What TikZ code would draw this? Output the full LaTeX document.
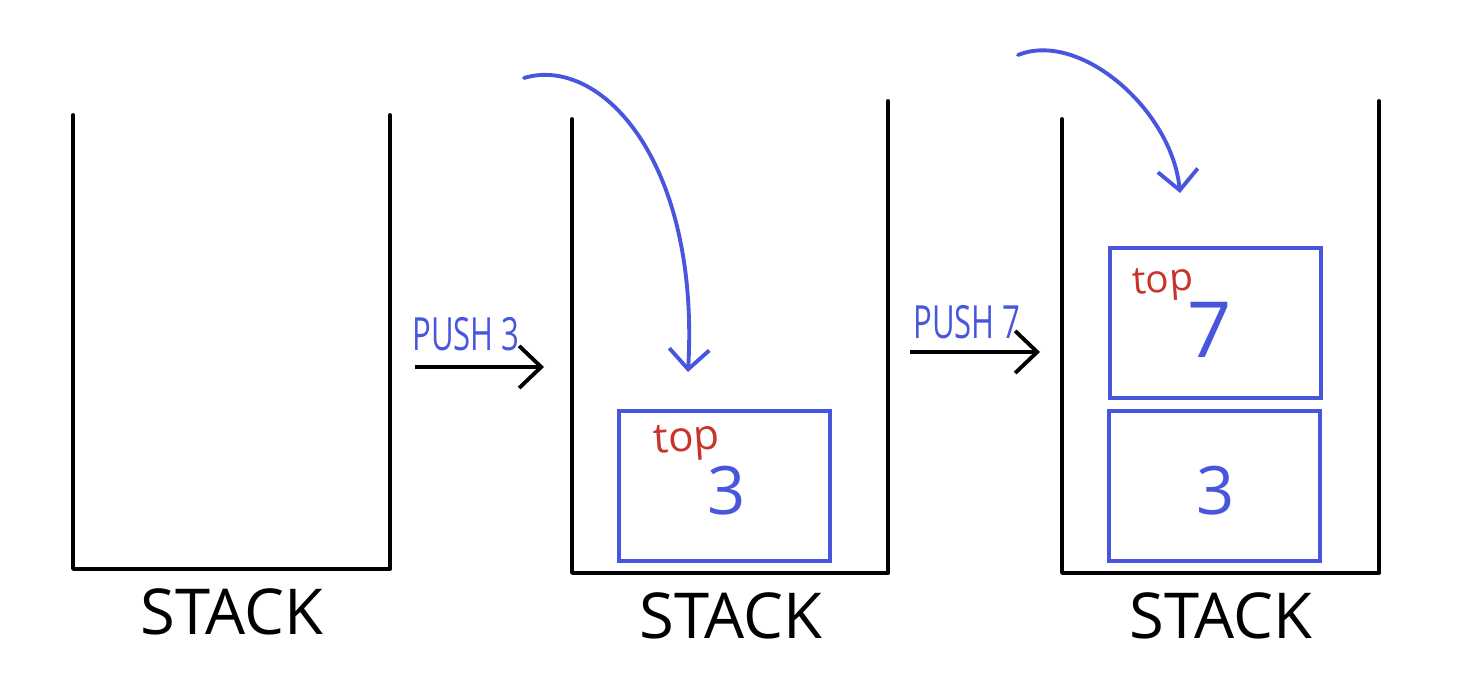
\documentclass[tikz,border=0pt]{standalone}
\usepackage{fontspec}
\setmainfont{Open Sans}
\usetikzlibrary{arrows.meta}
\definecolor{penblue}{RGB}{72,86,222}
\definecolor{penred}{RGB}{200,52,44}
\tikzset{
  wall/.style={draw=black, line width=1.1pt, line cap=round, line join=round},
  pushline/.style={draw=black, line width=1.1pt, -{Straight Barb[length=2.2mm,width=4.2mm,line width=1.1pt]}},
  dropline/.style={draw=penblue, line width=1.1pt, line cap=round, -{Straight Barb[length=2mm,width=4mm,line width=1.1pt]}},
  cell/.style={draw=penblue, line width=1.1pt, minimum width=2.11cm, minimum height=1.5cm, inner sep=0pt},
  stacklabel/.style={font=\fontsize{18}{20}\selectfont, inner sep=0pt},
  pushlabel/.style={text=penblue, font=\fontsize{13}{15}\selectfont, inner sep=0pt},
  toplabel/.style={text=penred, inner sep=0pt, rotate=4},
  value/.style={text=penblue, inner sep=0pt}
}
\begin{document}
\begin{tikzpicture}[x=0.01cm, y=-0.01cm]
\useasboundingbox (0,0) rectangle (1460,698);
% stacks
\draw[wall] (73,115) -- (73,569) -- (390,569) -- (390,115);
\draw[wall] (572,119) -- (572,573) -- (888,573) -- (888,101);
\draw[wall] (1062,119) -- (1062,573) -- (1379,573) -- (1379,101);
\node[stacklabel] (s1) at (232,612) {STACK};
\node[stacklabel] (s2) at (731,616) {STACK};
\node[stacklabel] (s3) at (1221,616) {STACK};
% push arrows
\coordinate (p1a) at (415,367);
\coordinate (p1b) at (544,367);
\draw[pushline] (p1a) -- (p1b);
\node[pushlabel] (l1) at (466,334) {\scalebox{0.68}[1]{PUSH 3}};
\coordinate (p2a) at (910,352);
\coordinate (p2b) at (1040,352);
\draw[pushline] (p2a) -- (p2b);
\node[pushlabel] (l2) at (967,322) {\scalebox{0.68}[1]{PUSH 7}};
% cells
\node[cell] (c1) at (724.5,486) {};
\node[toplabel, font=\fontsize{12}{14}\selectfont] (t1) at (687,442) {top};
\node[value, font=\fontsize{19}{21}\selectfont] (v1) at (727,491) {3};
\node[cell] (c2) at (1215.5,323) {};
\node[toplabel, font=\fontsize{11}{13}\selectfont] (t2) at (1163,284) {top};
\node[value, font=\fontsize{22}{24}\selectfont] (v2) at (1210,330) {7};
\node[cell] (c3) at (1214.5,486) {};
\node[value, font=\fontsize{19}{21}\selectfont] (v3) at (1216,491) {3};
% drop arrows
\coordinate (d1a) at (524,78);
\coordinate (d1b) at (688,372);
\draw[dropline] (d1a) .. controls (600,55) and (700,160) .. (d1b);
\coordinate (d2a) at (1018,55);
\coordinate (d2b) at (1180,193);
\draw[dropline] (d2a) .. controls (1080,30) and (1172,110) .. (d2b);
\end{tikzpicture}
\end{document}
